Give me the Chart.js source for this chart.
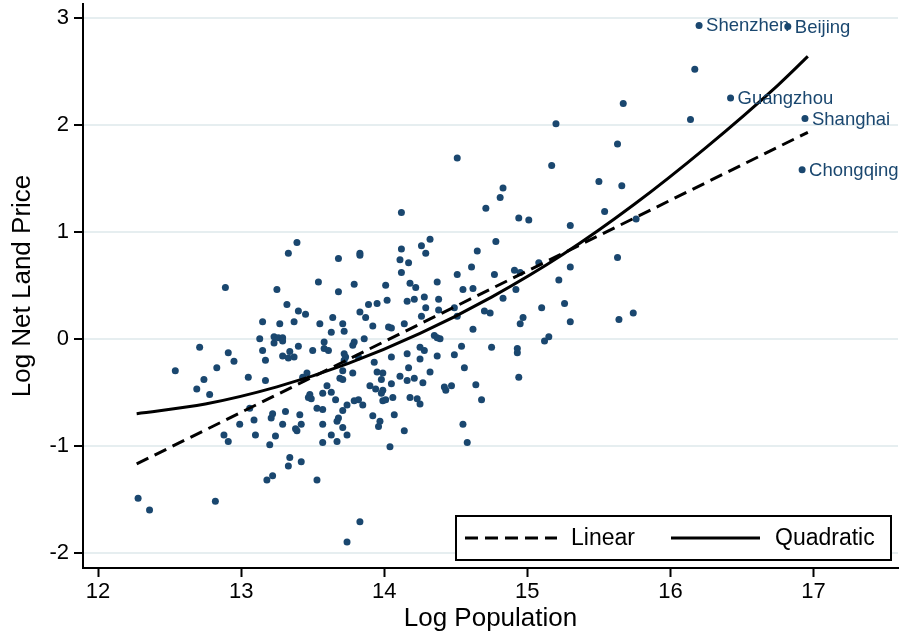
<!DOCTYPE html>
<html>
<head>
<meta charset="utf-8">
<title>Log Net Land Price vs Log Population</title>
<script src="https://cdn.jsdelivr.net/npm/chart.js@4.4.1/dist/chart.umd.min.js"></script>
<style>
  html, body { margin: 0; padding: 0; background: #fff; }
</style>
</head>
<body>
<canvas id="landChart" width="902" height="635"></canvas>
<script>
// ------------ DATA ------------ //

// city-level scatter: log population vs log net land price
var popX = [
    12.28, 12.36, 12.54, 12.69, 12.74, 12.78, 12.71, 12.83, 12.89, 12.91,
    12.95, 13.05, 13.06, 12.99, 12.88, 12.91, 12.82, 13.09, 13.10, 13.25,
    13.54, 13.79, 13.68, 13.32, 13.40, 13.45, 13.15, 13.27, 13.37, 13.55,
    13.64, 13.71, 13.83, 13.72, 13.63, 13.13, 13.23, 13.26, 13.29, 13.29,
    13.23, 13.40, 13.58, 13.78, 13.79, 13.15, 13.17, 13.29, 13.34, 13.33,
    13.37, 13.50, 13.58, 13.61, 13.72, 13.73, 13.72, 13.82, 13.17, 13.46,
    13.43, 13.71, 13.69, 13.71, 13.78, 13.60, 13.57, 13.63, 13.48, 13.49,
    13.47, 13.66, 13.79, 13.82, 13.74, 13.53, 13.57, 13.71, 13.21, 13.22,
    13.31, 13.41, 13.68, 13.24, 13.20, 13.29, 13.38, 13.39, 13.42, 13.57,
    13.67, 13.71, 13.63, 13.67, 13.74, 13.57, 13.92, 13.97, 13.96, 14.07,
    14.14, 14.04, 13.34, 13.33, 13.42, 13.18, 13.22, 13.53, 13.83, 13.74,
    13.39, 13.33, 13.68, 13.83, 13.83, 14.11, 14.12, 14.12, 14.01, 13.89,
    13.95, 14.02, 13.87, 13.92, 14.03, 14.05, 13.86, 14.12, 14.71, 14.94,
    15.01, 14.26, 14.32, 14.29, 14.17, 14.65, 14.78, 15.08, 14.18, 14.22,
    14.37, 14.51, 14.61, 14.77, 14.91, 14.95, 14.55, 14.62, 14.16, 14.21,
    14.28, 14.38, 14.29, 14.38, 14.49, 14.83, 14.92, 14.14, 14.26, 14.51,
    14.70, 14.74, 14.97, 14.95, 15.10, 14.62, 14.35, 14.37, 14.39, 14.25,
    14.54, 14.75, 14.93, 15.12, 15.15, 14.93, 14.28, 14.37, 14.49, 14.16,
    14.05, 14.25, 13.93, 14.17, 14.32, 14.56, 14.94, 13.95, 13.99, 14.11,
    13.98, 14.21, 14.16, 14.27, 14.05, 13.90, 13.94, 13.99, 13.98, 14.42,
    14.43, 14.47, 14.64, 13.85, 13.99, 14.01, 14.06, 14.18, 14.23, 14.25,
    14.68, 14.55, 14.58, 15.17, 14.83, 14.81, 15.50, 15.66, 15.54, 15.76,
    15.30, 15.63, 15.30, 15.22, 15.26, 15.30, 15.64, 15.74, 16.17, 15.67,
    15.20, 16.14, 15.63, 14.51
];
var priceY = [
    -1.49, -1.60, -0.30, -0.47, -0.38, -0.52, -0.08, -0.27, 0.48, -0.13,
    -0.21, -0.36, -0.65, -0.80, -0.90, -0.96, -1.52, -0.76, -0.90, 0.46,
    0.53, 0.51, 0.44, 0.32, 0.26, 0.23, 0.16, 0.14, 0.16, 0.14,
    0.20, 0.14, 0.25, 0.07, 0.06, 0.00, 0.02, 0.01, 0.01, -0.02,
    -0.04, -0.07, -0.03, -0.06, -0.03, -0.11, -0.20, -0.16, -0.12, -0.18,
    -0.17, -0.11, -0.09, -0.11, -0.14, -0.17, -0.20, -0.17, -0.39, -0.32,
    -0.36, -0.30, -0.37, -0.38, -0.32, -0.44, -0.51, -0.50, -0.52, -0.56,
    -0.55, -0.57, -0.58, -0.57, -0.62, -0.65, -0.66, -0.67, -0.74, -0.70,
    -0.68, -0.71, -0.74, -0.91, -0.99, -0.80, -0.84, -0.86, -0.80, -0.80,
    -0.77, -0.83, -0.90, -0.96, -0.90, -0.97, -0.72, -0.77, -0.82, -0.71,
    -0.86, -1.01, -1.11, -1.19, -1.15, -1.32, -1.28, -1.32, -1.71, -1.90,
    0.90, 0.80, 0.75, 0.80, 0.78, 0.74, 0.84, 0.62, 0.50, 0.32,
    0.33, 0.36, 0.20, 0.12, 0.11, 0.10, 0.00, 1.18, 1.22, 1.13,
    1.11, 0.87, 0.93, 0.80, 0.71, 0.82, 0.91, 0.71, 0.52, 0.48,
    0.53, 0.60, 0.67, 0.60, 0.64, 0.62, 0.46, 0.47, 0.35, 0.37,
    0.39, 0.37, 0.29, 0.27, 0.29, 0.38, 0.46, 0.14, 0.21, 0.21,
    0.26, 0.24, 0.20, 0.14, 0.29, 0.09, 0.03, 0.01, 0.00, -0.08,
    -0.07, -0.08, -0.09, -0.02, 0.02, -0.13, -0.11, -0.16, -0.15, -0.14,
    -0.17, -0.19, -0.22, -0.27, -0.31, -0.27, -0.36, -0.31, -0.32, -0.35,
    -0.38, -0.37, -0.39, -0.41, -0.42, -0.44, -0.47, -0.48, -0.51, -0.45,
    -0.48, -0.44, -0.43, -0.62, -0.58, -0.57, -0.55, -0.55, -0.56, -0.61,
    -0.57, -0.80, -0.97, 1.62, 1.41, 1.32, 1.47, 1.43, 1.19, 1.12,
    1.06, 0.76, 0.67, 0.55, 0.33, 0.16, 0.18, 0.24, 2.52, 2.20,
    2.01, 2.05, 1.82, 1.69
];

// labelled cities
var cityNames = ["Shenzhen", "Beijing", "Guangzhou", "Shanghai", "Chongqing"];
var cityX = [16.20, 16.82, 16.42, 16.94, 16.92];
var cityY = [2.93, 2.92, 2.25, 2.06, 1.58];

// fitted lines
var linearX = [12.27, 16.96];
var linearY = [-1.17, 1.93];
var quadX = [12.27, 12.75, 13.25, 13.75, 14.25, 14.75, 15.25, 15.75, 16.25, 16.75, 16.96];
var quadY = [-0.70, -0.61, -0.45, -0.23, 0.05, 0.39, 0.79, 1.26, 1.79, 2.37, 2.64];

var xTicks = [12, 13, 14, 15, 16, 17];
var yTicks = [-2, -1, 0, 1, 2, 3];

var legendNames = ["Linear", "Quadratic"];

// ------------ CHART ------------ //

var FONT = "'Liberation Sans', Arial, sans-serif";
var NAVY = '#1a476f';

function toPoints(xs, ys) {
    return xs.map(function (x, i) { return { x: x, y: ys[i] }; });
}

var scatterPts = toPoints(popX, priceY).concat(toPoints(cityX, cityY));

// city name labels next to their dots
var cityLabels = {
    id: 'cityLabels',
    afterDatasetsDraw: function (chart) {
        var c = chart.ctx;
        var xs = chart.scales.x, ys = chart.scales.y;
        c.save();
        c.font = '18.5px ' + FONT;
        c.fillStyle = NAVY;
        c.textBaseline = 'middle';
        cityNames.forEach(function (name, i) {
            c.fillText(name, xs.getPixelForValue(cityX[i]) + 7, ys.getPixelForValue(cityY[i]) + 1);
        });
        c.restore();
    }
};

// boxed legend sitting inside the plot, bottom right
var boxLegend = {
    id: 'boxLegend',
    afterDraw: function (chart) {
        var c = chart.ctx;
        var a = chart.chartArea;
        var w = 435, h = 44;
        var left = a.right - 7 - w;
        var top = a.bottom - 8 - h;
        var mid = top + h / 2;
        c.save();
        c.fillStyle = '#fff';
        c.fillRect(left, top, w, h);
        c.strokeStyle = '#000';
        c.lineWidth = 2;
        c.strokeRect(left, top, w, h);

        c.lineWidth = 3;
        c.setLineDash([13, 7]);
        c.beginPath();
        c.moveTo(left + 9, mid);
        c.lineTo(left + 101, mid);
        c.stroke();

        c.setLineDash([]);
        c.beginPath();
        c.moveTo(left + 215, mid);
        c.lineTo(left + 304, mid);
        c.stroke();

        c.fillStyle = '#000';
        c.font = '23px ' + FONT;
        c.textBaseline = 'middle';
        c.fillText(legendNames[0], left + 115, mid + 1);
        c.fillText(legendNames[1], left + 319, mid + 1);
        c.restore();
    }
};

new Chart(document.getElementById('landChart'), {
    type: 'scatter',
    data: {
        datasets: [{
            label: legendNames[0],
            data: toPoints(linearX, linearY),
            showLine: true,
            borderColor: '#000',
            borderWidth: 3,
            borderDash: [13, 7],
            pointRadius: 0,
            order: 0
        }, {
            label: legendNames[1],
            data: toPoints(quadX, quadY),
            showLine: true,
            borderColor: '#000',
            borderWidth: 3,
            cubicInterpolationMode: 'monotone',
            pointRadius: 0,
            order: 0
        }, {
            label: 'Cities',
            data: scatterPts,
            backgroundColor: NAVY,
            borderWidth: 0,
            pointRadius: 3.5,
            order: 1
        }]
    },
    options: {
        responsive: false,
        animation: false,
        events: [],
        layout: { padding: { top: 2, right: 2, left: 0, bottom: 0 } },
        plugins: {
            legend: { display: false },
            tooltip: { enabled: false }
        },
        scales: {
            x: {
                type: 'linear',
                min: 11.895,
                max: 17.59,
                afterBuildTicks: function (s) { s.ticks = xTicks.map(function (v) { return { value: v }; }); },
                afterFit: function (s) {
                    s.height = 67;
                    s.paddingLeft = 0;
                    s.paddingRight = 0;
                },
                ticks: { color: '#000', font: { family: FONT, size: 22 }, padding: 2, autoSkip: false, maxRotation: 0 },
                grid: { drawOnChartArea: false, tickColor: '#000', tickLength: 9, tickWidth: 2 },
                border: { color: '#000', width: 2 },
                title: {
                    display: true,
                    text: 'Log Population',
                    color: '#000',
                    font: { family: FONT, size: 26, lineHeight: 1.2 },
                    padding: { top: 0, bottom: 1 }
                }
            },
            y: {
                type: 'linear',
                min: -2.143,
                max: 3.13,
                afterBuildTicks: function (s) { s.ticks = yTicks.map(function (v) { return { value: v }; }); },
                afterFit: function (s) {
                    s.width = 83;
                    s.paddingTop = 0;
                    s.paddingBottom = 0;
                },
                ticks: { color: '#000', font: { family: FONT, size: 22 }, padding: 5, autoSkip: false },
                grid: { color: '#e6eef0', lineWidth: 2, tickColor: '#000', tickLength: 9, tickWidth: 2 },
                border: { color: '#000', width: 2 },
                title: {
                    display: true,
                    text: 'Log Net Land Price',
                    color: '#000',
                    font: { family: FONT, size: 26, lineHeight: 1.2 },
                    padding: { top: 7, bottom: 0 }
                }
            }
        }
    },
    plugins: [cityLabels, boxLegend]
});
</script>
</body>
</html>
